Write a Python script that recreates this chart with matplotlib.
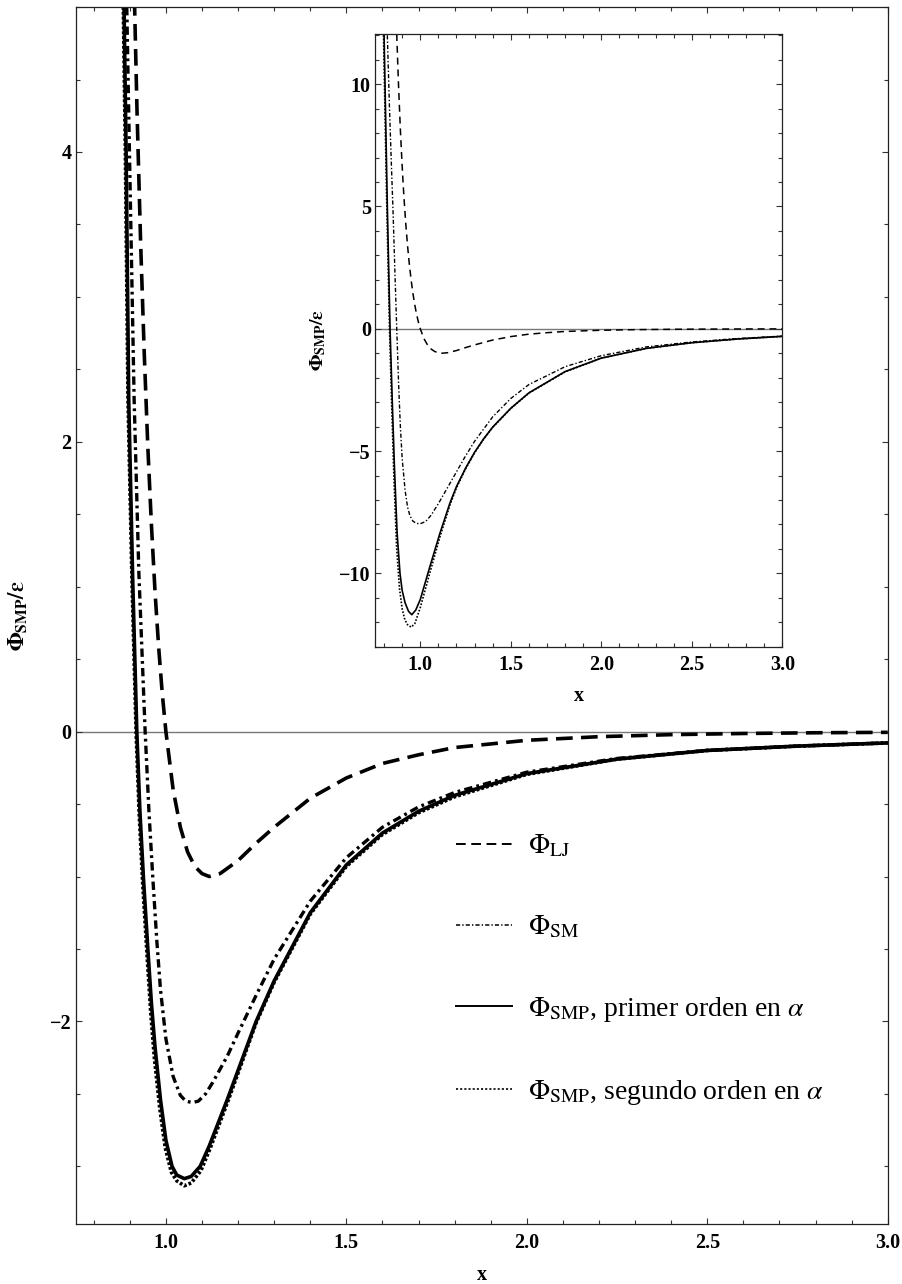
import matplotlib.pyplot as plt
from matplotlib.lines import Line2D
from matplotlib.ticker import MultipleLocator

plt.rcParams['font.family'] = ['Liberation Serif', 'DejaVu Serif']
plt.rcParams['mathtext.fontset'] = 'stix'
plt.rcParams['lines.scale_dashes'] = False

# Lennard-Jones (same curve in both panels)
x_lj = [0.87, 0.875, 0.88, 0.89, 0.90, 0.905, 0.91, 0.92, 0.93, 0.94, 0.95, 0.96, 0.97, 0.98, 0.99,
        1.0, 1.02, 1.04, 1.06, 1.08, 1.10, 1.12, 1.15, 1.2, 1.25, 1.3, 1.4, 1.5, 1.6, 1.7, 1.8,
        2.0, 2.2, 2.4, 2.6, 2.8, 3.0]
y_lj = [12.05, 10.95, 9.93, 8.15, 6.64, 5.97, 5.36, 4.28, 3.37, 2.61, 1.96, 1.42, 0.96, 0.58, 0.26,
        0.0, -0.40, -0.66, -0.83, -0.93, -0.98, -1.0, -0.98, -0.89, -0.77, -0.66, -0.46, -0.32, -0.22, -0.16, -0.11,
        -0.06, -0.035, -0.021, -0.013, -0.008, -0.005]

# panel principal
x_sm = [0.8916, 0.899, 0.912, 0.925, 0.9425, 0.953, 0.964, 0.975, 0.985, 1.0, 1.02, 1.04, 1.055, 1.073, 1.09,
        1.11, 1.13, 1.17, 1.2, 1.25, 1.3, 1.4, 1.5, 1.6, 1.7, 1.8, 2.0, 2.25, 2.5, 2.75, 3.0]
y_sm = [5.0, 4.0, 2.29, 1.1, 0.0, -0.55, -1.02, -1.45, -1.78, -2.12, -2.38, -2.51, -2.55, -2.56, -2.55,
        -2.5, -2.42, -2.24, -2.08, -1.82, -1.57, -1.17, -0.87, -0.66, -0.52, -0.42, -0.28, -0.185, -0.13, -0.10, -0.078]

x_smp1 = [0.884, 0.8897, 0.897, 0.908, 0.9194, 0.928, 0.938, 0.95, 0.96, 0.97, 0.985, 1.0, 1.017, 1.03,
          1.051, 1.07, 1.095, 1.12, 1.17, 1.25, 1.3, 1.4, 1.5, 1.6, 1.7, 1.8,
          2.0, 2.25, 2.5, 2.75, 3.0]
y_smp1 = [5.0, 4.0, 2.29, 1.05, 0.0, -0.55, -1.02, -1.5, -1.88, -2.18, -2.54, -2.82, -3.0, -3.06,
          -3.085, -3.07, -3.0, -2.86, -2.54, -2.0, -1.72, -1.25, -0.92, -0.70, -0.55, -0.44,
          -0.29, -0.19, -0.13, -0.10, -0.078]

x_smp2 = [0.882, 0.8877, 0.895, 0.906, 0.9174, 0.926, 0.936, 0.948, 0.958, 0.968, 0.983, 0.998, 1.015, 1.03,
          1.051, 1.07, 1.097, 1.122, 1.172, 1.25, 1.3, 1.4, 1.5, 1.6, 1.7, 1.8,
          2.0, 2.25, 2.5, 2.75, 3.0]
y_smp2 = [5.0, 4.0, 2.29, 1.05, 0.0, -0.57, -1.06, -1.55, -1.94, -2.25, -2.6, -2.87, -3.04, -3.1,
          -3.134, -3.115, -3.03, -2.88, -2.55, -2.01, -1.73, -1.26, -0.93, -0.71, -0.56, -0.45,
          -0.295, -0.19, -0.13, -0.10, -0.078]

# recuadro
x_sm_in = [0.818, 0.83, 0.84, 0.85, 0.86, 0.87, 0.88, 0.89, 0.90, 0.916, 0.93, 0.943, 0.96, 0.98, 1.0,
           1.03, 1.06, 1.1, 1.15, 1.2, 1.25, 1.3, 1.4, 1.5, 1.6, 1.8, 2.0, 2.25, 2.5, 2.75, 3.0]
y_sm_in = [12.0, 9.0, 6.8, 4.7, 2.3, 0.0, -2.2, -4.0, -5.3, -6.6, -7.3, -7.65, -7.87, -7.96, -7.97,
           -7.88, -7.62, -7.15, -6.5, -5.85, -5.2, -4.6, -3.6, -2.85, -2.28, -1.55, -1.1, -0.74, -0.54, -0.40, -0.30]

x_smp1_in = [0.80, 0.818, 0.833, 0.845, 0.857, 0.872, 0.888, 0.90, 0.916, 0.935, 0.953, 0.975, 1.0,
             1.054, 1.109, 1.164, 1.2, 1.25, 1.3, 1.35, 1.4, 1.5, 1.6, 1.8, 2.0, 2.25, 2.5, 2.75, 3.0]
y_smp1_in = [12.0, 5.0, 0.0, -2.9, -5.6, -8.35, -10.0, -10.7, -11.2, -11.55, -11.69, -11.5, -11.07,
             -9.7, -8.35, -7.12, -6.45, -5.7, -5.05, -4.5, -4.02, -3.25, -2.62, -1.75, -1.2, -0.8, -0.57, -0.42, -0.31]

x_smp2_in = [0.797, 0.815, 0.830, 0.842, 0.854, 0.869, 0.885, 0.90, 0.915, 0.93, 0.95, 0.97, 1.0,
             1.054, 1.109, 1.164, 1.2, 1.25, 1.3, 1.35, 1.4, 1.5, 1.6, 1.8, 2.0, 2.25, 2.5, 2.75, 3.0]
y_smp2_in = [12.0, 5.0, 0.0, -3.1, -6.0, -8.9, -10.6, -11.45, -11.9, -12.1, -12.2, -12.05, -11.4,
             -9.95, -8.5, -7.2, -6.5, -5.73, -5.07, -4.51, -4.03, -3.26, -2.63, -1.76, -1.2, -0.8, -0.57, -0.42, -0.31]

bold = {'family': 'Liberation Serif', 'weight': 'bold', 'size': 14.5}
ylab = r'$\mathbf{\Phi_{SMP}/\epsilon}$'


def estilo(ax, xmin, xmax, ymin, ymax, ymaj, ymin_step, big, small):
    ax.set_xlim(xmin, xmax)
    ax.set_ylim(ymin, ymax)
    ax.xaxis.set_major_locator(MultipleLocator(0.5))
    ax.xaxis.set_minor_locator(MultipleLocator(0.1))
    ax.yaxis.set_major_locator(MultipleLocator(ymaj))
    ax.yaxis.set_minor_locator(MultipleLocator(ymin_step))
    ax.xaxis.set_major_formatter(lambda v, p: f'{v:.1f}')
    ax.yaxis.set_major_formatter(lambda v, p: f'{v:.0f}'.replace('-', '\u2212'))
    ax.tick_params(which='both', direction='in', top=True, right=True, width=0.8, color='#333333')
    ax.tick_params(which='major', length=big)
    ax.tick_params(which='minor', length=small)
    ax.tick_params(axis='x', pad=6)
    ax.tick_params(axis='y', pad=3)
    for lab in ax.get_xticklabels() + ax.get_yticklabels():
        lab.set_fontproperties(bold)
    for s in ax.spines.values():
        s.set_linewidth(0.9)
        s.set_color('#222222')
    ax.axhline(0, color='#777777', lw=1.0, zorder=1)


fig = plt.figure(figsize=(9.03, 12.84), dpi=100)

ax = fig.add_axes([0.0838, 0.0465, 0.8993, 0.9480])
ax.plot(x_lj, y_lj, color='black', lw=2.6, dashes=(12, 6))
ax.plot(x_sm, y_sm, color='black', lw=2.4, dashes=(6, 3, 2, 3))
ax.plot(x_smp1, y_smp1, color='black', lw=2.6)
ax.plot(x_smp2, y_smp2, color='black', lw=2.6, dashes=(2, 1.5))
estilo(ax, 0.75, 3.0, -3.4, 5.0, 2, 0.5, 4.3, 2.6)
ax.set_xlabel('x', fontproperties=bold, labelpad=9)
ax.set_ylabel(ylab, fontsize=16, labelpad=14)

handles = [Line2D([], [], color='black', lw=1.4, dashes=(7, 4)),
           Line2D([], [], color='black', lw=1.1, dashes=(3, 1.5, 1, 1.5)),
           Line2D([], [], color='black', lw=1.4),
           Line2D([], [], color='black', lw=1.2, dashes=(1.5, 1.5))]
labels = [r'$\Phi_{\rm LJ}$', r'$\Phi_{\rm SM}$',
          r'$\Phi_{\rm SMP}$, primer orden en $\alpha$',
          r'$\Phi_{\rm SMP}$, segundo orden en $\alpha$']
ax.legend(handles, labels, loc='upper left', bbox_to_anchor=(0.4684, 0.3214), frameon=False,
          borderpad=0, borderaxespad=0, handlelength=2.0, handletextpad=0.6, labelspacing=1.95,
          prop={'family': 'Liberation Serif', 'size': 20})

ins = fig.add_axes([0.4153, 0.4963, 0.4511, 0.4772])
ins.plot(x_lj, y_lj, color='black', lw=1.1, dashes=(5, 3.5))
ins.plot(x_sm_in, y_sm_in, color='black', lw=1.0, dashes=(3, 1.5, 1, 1.5))
ins.plot(x_smp1_in, y_smp1_in, color='black', lw=1.2)
ins.plot(x_smp2_in, y_smp2_in, color='black', lw=1.2, dashes=(1.2, 1.2))
estilo(ins, 0.75, 3.0, -13.0, 12.05, 5, 1, 4.3, 2.6)
ins.set_xlabel('x', fontproperties=bold, labelpad=8)
ins.set_ylabel(ylab, fontsize=14, labelpad=8)

plt.savefig('out.png')
